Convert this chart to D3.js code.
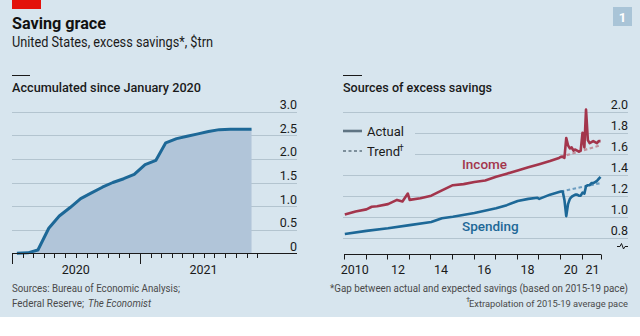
<!DOCTYPE html>
<html>
<head>
<meta charset="utf-8">
<script src="https://d3js.org/d3.v7.min.js"></script>
<style>
  body { margin: 0; background: #fff; }
  svg { display: block; font-family: Roboto, "Noto Sans", sans-serif; }
</style>
</head>
<body>
<svg width="640" height="336"></svg>
<script>
// ---- data ----
var leftMonths = ["2020-01","2020-02","2020-03","2020-04","2020-05","2020-06","2020-07","2020-08",
  "2020-09","2020-10","2020-11","2020-12","2021-01","2021-02","2021-03","2021-04","2021-05",
  "2021-06","2021-07","2021-08","2021-09","2021-10","2021-11"];
var accumulated = [0, 0.01, 0.07, 0.53, 0.79, 0.97, 1.16, 1.28, 1.40, 1.50, 1.58, 1.67,
  1.88, 1.97, 2.34, 2.43, 2.48, 2.53, 2.58, 2.62, 2.63, 2.63, 2.63];
var leftTicks = [0, 0.5, 1, 1.5, 2, 2.5, 3];
var leftYears = ["2020", "2021"];

var incomeDates = ["2010-01","2010-07","2011-01","2011-04","2011-07","2012-01","2012-06","2012-09",
  "2012-12","2013-01","2013-07","2014-01","2014-07","2015-01","2015-07","2016-01","2016-07",
  "2017-01","2017-07","2018-01","2018-07","2019-01","2019-07","2019-12",
  "2020-01","2020-02","2020-03","2020-04","2020-05","2020-06","2020-07","2020-08","2020-09",
  "2020-10","2020-11","2020-12","2021-01","2021-02","2021-03","2021-04","2021-05","2021-06",
  "2021-07","2021-08","2021-09","2021-10","2021-11"];
var incomeValues = [1.02, 1.05, 1.07, 1.095, 1.10, 1.12, 1.16, 1.145,
  1.22, 1.16, 1.175, 1.20, 1.25, 1.30, 1.31, 1.33, 1.345,
  1.38, 1.41, 1.44, 1.47, 1.50, 1.53, 1.56,
  1.57, 1.57, 1.56, 1.75, 1.68, 1.65, 1.66, 1.63, 1.64,
  1.63, 1.62, 1.63, 1.80, 1.66, 2.02, 1.73, 1.70, 1.71,
  1.72, 1.71, 1.70, 1.72, 1.72];

var spendingDates = ["2010-01","2011-01","2012-01","2013-01","2014-01","2014-07","2015-01",
  "2016-01","2017-01","2017-07","2018-01","2018-07","2018-12","2019-01","2019-07","2019-12",
  "2020-01","2020-02","2020-03","2020-04","2020-05","2020-06","2020-07","2020-08","2020-09",
  "2020-10","2020-11","2020-12","2021-01","2021-02","2021-03","2021-04","2021-05","2021-06",
  "2021-07","2021-08","2021-09","2021-10","2021-11"];
var spendingValues = [0.835, 0.865, 0.89, 0.92, 0.95, 0.985, 1.00,
  1.035, 1.08, 1.11, 1.15, 1.17, 1.18, 1.17, 1.21, 1.235,
  1.24, 1.24, 1.16, 1.005, 1.12, 1.17, 1.19, 1.20, 1.21,
  1.21, 1.20, 1.20, 1.23, 1.22, 1.29, 1.30, 1.30, 1.32,
  1.32, 1.33, 1.34, 1.36, 1.38];

var trendDates = ["2020-01", "2021-11"];
var incomeTrend = [1.57, 1.68];
var spendingTrend = [1.24, 1.32];

var rightTicks = [0.8, 1.0, 1.2, 1.4, 1.6, 1.8, 2.0];
var rightYears = [2010, 2012, 2014, 2016, 2018, 2020, 2021];
var rightYearLabels = ["2010", "12", "14", "16", "18", "20", "21"];

// ---- helpers ----
function mid(s) {
  var p = s.split("-").map(Number);
  return new Date(p[0], p[1] - 1, 15);
}

var svg = d3.select("svg");
var bg = "#d7e5ee", grid = "#b3c4cf", ink = "#1a1a1a";
var blue = "#1d6897", red = "#a3354c";

svg.append("rect").attr("width", 640).attr("height", 317).attr("fill", bg);
svg.append("rect").attr("x", 12).attr("y", 0).attr("width", 29).attr("height", 9).attr("fill", "#e3120b");
svg.append("rect").attr("x", 613).attr("y", 7).attr("width", 19).attr("height", 19).attr("fill", "#a9c4d7");
svg.append("text").attr("x", 622.5).attr("y", 21.5).attr("text-anchor", "middle")
  .attr("fill", "#fff").attr("font-size", 13).attr("font-weight", 700).text("1");

svg.append("text").attr("x", 12).attr("y", 29).attr("font-size", 16.5).attr("font-weight", 700)
  .attr("fill", "#111").attr("textLength", 94).attr("lengthAdjust", "spacingAndGlyphs")
  .text("Saving grace");
svg.append("text").attr("x", 12).attr("y", 47).attr("font-size", 14).attr("fill", ink)
  .attr("textLength", 201).attr("lengthAdjust", "spacingAndGlyphs")
  .text("United States, excess savings*, $trn");

// ---- left panel ----
svg.append("line").attr("x1", 12).attr("x2", 30).attr("y1", 75.5).attr("y2", 75.5).attr("stroke", ink);
svg.append("text").attr("x", 12).attr("y", 92).attr("font-size", 13).attr("font-weight", 500)
  .attr("fill", ink).attr("textLength", 189).attr("lengthAdjust", "spacingAndGlyphs")
  .text("Accumulated since January 2020");

var xL = d3.scaleTime().domain([new Date(2020, 0, 1), new Date(2022, 0, 1)]).range([12, 268]);
var yL = d3.scaleLinear().domain([0, 3]).range([253.3, 111.7]);
var left = svg.append("g");

left.selectAll(".gl").data(leftTicks.filter(function(d) { return d > 0; }))
  .enter().append("line")
  .attr("x1", 12).attr("x2", 297)
  .attr("y1", function(d) { return Math.round(yL(d)) + 0.5; })
  .attr("y2", function(d) { return Math.round(yL(d)) + 0.5; })
  .attr("stroke", grid);

left.selectAll(".tl").data(leftTicks)
  .enter().append("text")
  .attr("x", 297).attr("y", function(d) { return yL(d) - 2.5; })
  .attr("text-anchor", "end").attr("font-size", 12.5).attr("fill", ink)
  .text(function(d) { return d === 0 ? "0" : d.toFixed(1); });

var leftData = leftMonths.map(function(m, i) { return { date: mid(m), value: accumulated[i] }; });

left.append("path").datum(leftData)
  .attr("fill", "#b1c5d9")
  .attr("d", d3.area()
    .x(function(d) { return xL(d.date); })
    .y0(yL(0))
    .y1(function(d) { return yL(d.value); }));

left.append("path").datum(leftData)
  .attr("fill", "none").attr("stroke", blue).attr("stroke-width", 3)
  .attr("stroke-linejoin", "round")
  .attr("d", d3.line()
    .x(function(d) { return xL(d.date); })
    .y(function(d) { return yL(d.value); }));

left.append("line").attr("x1", 12).attr("x2", 297).attr("y1", 253.5).attr("y2", 253.5)
  .attr("stroke", ink);

var months = d3.timeMonth.range(new Date(2020, 0, 1), new Date(2022, 0, 1));
left.selectAll(".tk").data(months).enter().append("line")
  .attr("x1", function(d) { return Math.round(xL(d)) + 0.5; })
  .attr("x2", function(d) { return Math.round(xL(d)) + 0.5; })
  .attr("y1", 253.5)
  .attr("y2", function(d) { return d.getMonth() === 0 ? 264 : 258; })
  .attr("stroke", ink);

left.selectAll(".yr").data(leftYears).enter().append("text")
  .attr("x", function(d) { return xL(new Date(+d, 6, 1)); })
  .attr("y", 274).attr("text-anchor", "middle").attr("font-size", 12.5).attr("fill", ink)
  .text(function(d) { return d; });

// ---- right panel ----
svg.append("line").attr("x1", 343).attr("x2", 362).attr("y1", 75.5).attr("y2", 75.5).attr("stroke", ink);
svg.append("text").attr("x", 343).attr("y", 92).attr("font-size", 13).attr("font-weight", 500)
  .attr("fill", ink).attr("textLength", 149).attr("lengthAdjust", "spacingAndGlyphs")
  .text("Sources of excess savings");

var xR = d3.scaleTime().domain([new Date(2010, 0, 1), new Date(2021, 0, 1)]).range([344, 581.7]);
var yR = d3.scaleLinear().domain([0.8, 2.0]).range([237.7, 111.7]);
var right = svg.append("g");

right.selectAll(".gl").data(rightTicks).enter().append("line")
  .attr("x1", function(d) { return (d === 1.6 || d === 1.8) ? 415 : 343; })
  .attr("x2", 628)
  .attr("y1", function(d) { return Math.round(yR(d)) + 0.5; })
  .attr("y2", function(d) { return Math.round(yR(d)) + 0.5; })
  .attr("stroke", grid);

right.selectAll(".tl").data(rightTicks).enter().append("text")
  .attr("x", 628).attr("y", function(d) { return yR(d) - 2.5; })
  .attr("text-anchor", "end").attr("font-size", 12.5).attr("fill", ink)
  .text(function(d) { return d.toFixed(1); });

// axis break symbol
right.append("path")
  .attr("d", "M617,246.5 h3 l1.5,-3 l2,5.5 l1.5,-2.5 h3")
  .attr("fill", "none").attr("stroke", ink).attr("stroke-width", 1);

var lineR = d3.line()
  .x(function(d) { return xR(d.date); })
  .y(function(d) { return yR(d.value); });

function series(dates, vals) {
  return dates.map(function(m, i) { return { date: mid(m), value: vals[i] }; });
}

right.append("path").datum(series(trendDates, incomeTrend))
  .attr("fill", "none").attr("stroke", "#c2909c").attr("stroke-width", 2.2)
  .attr("stroke-dasharray", "3.5,2.5").attr("d", lineR);
right.append("path").datum(series(trendDates, spendingTrend))
  .attr("fill", "none").attr("stroke", "#6c9dc0").attr("stroke-width", 2.2)
  .attr("stroke-dasharray", "3.5,2.5").attr("d", lineR);

right.append("path").datum(series(incomeDates, incomeValues))
  .attr("fill", "none").attr("stroke", red).attr("stroke-width", 2.6)
  .attr("stroke-linejoin", "round").attr("d", lineR);
right.append("path").datum(series(spendingDates, spendingValues))
  .attr("fill", "none").attr("stroke", blue).attr("stroke-width", 2.6)
  .attr("stroke-linejoin", "round").attr("d", lineR);

right.append("text").attr("x", 462).attr("y", 169).attr("font-size", 13.5).attr("font-weight", 500)
  .attr("fill", red).text("Income");
right.append("text").attr("x", 462).attr("y", 230.5).attr("font-size", 13.5).attr("font-weight", 500)
  .attr("fill", blue).text("Spending");

// legend
right.append("line").attr("x1", 343).attr("x2", 362).attr("y1", 131).attr("y2", 131)
  .attr("stroke", "#5f7483").attr("stroke-width", 2.6);
right.append("text").attr("x", 367).attr("y", 135.5).attr("font-size", 13).attr("fill", ink).text("Actual");
right.append("line").attr("x1", 343).attr("x2", 362).attr("y1", 151).attr("y2", 151)
  .attr("stroke", "#7d8f9b").attr("stroke-width", 2.2).attr("stroke-dasharray", "3,2.5");
right.append("text").attr("x", 367).attr("y", 155.5).attr("font-size", 13).attr("fill", ink).text("Trend");
right.append("text").attr("x", 399).attr("y", 150.5).attr("font-size", 8.5).attr("fill", ink).text("\u2020");

// x axis
right.append("line").attr("x1", 344).attr("x2", 601).attr("y1", 254.5).attr("y2", 254.5).attr("stroke", ink);
var yearTicks = d3.timeYear.range(new Date(2010, 0, 1), new Date(2022, 0, 1)).map(function(d) { return xR(d); });
yearTicks.push(601);
right.selectAll(".tk").data(yearTicks).enter().append("line")
  .attr("x1", function(d) { return Math.round(d) + 0.5; })
  .attr("x2", function(d) { return Math.round(d) + 0.5; })
  .attr("y1", 254.5).attr("y2", 259.5).attr("stroke", ink);

right.selectAll(".yr").data(rightYears).enter().append("text")
  .attr("x", function(d) { return xR(new Date(d, 6, 1)); })
  .attr("y", 274).attr("text-anchor", "middle").attr("font-size", 12.5).attr("fill", ink)
  .text(function(d, i) { return rightYearLabels[i]; });

// ---- footnotes ----
var foot = svg.append("g").attr("font-size", 10.5).attr("fill", "#4a4a4a");
foot.append("text").attr("x", 12).attr("y", 292)
  .attr("textLength", 168).attr("lengthAdjust", "spacingAndGlyphs")
  .text("Sources: Bureau of Economic Analysis;");
foot.append("text").attr("x", 12).attr("y", 307)
  .attr("textLength", 72).attr("lengthAdjust", "spacingAndGlyphs")
  .text("Federal Reserve;");
foot.append("text").attr("x", 88).attr("y", 307).attr("font-style", "italic")
  .attr("textLength", 63).attr("lengthAdjust", "spacingAndGlyphs")
  .text("The Economist");
foot.append("text").attr("x", 330).attr("y", 292).attr("font-size", 10)
  .attr("textLength", 298).attr("lengthAdjust", "spacingAndGlyphs")
  .text("*Gap between actual and expected savings (based on 2015-19 pace)");
foot.append("text").attr("x", 466).attr("y", 302).attr("font-size", 7.5).text("\u2020");
foot.append("text").attr("x", 469).attr("y", 307).attr("font-size", 9.5)
  .attr("textLength", 159).attr("lengthAdjust", "spacingAndGlyphs")
  .text("Extrapolation of 2015-19 average pace");
</script>
</body>
</html>
